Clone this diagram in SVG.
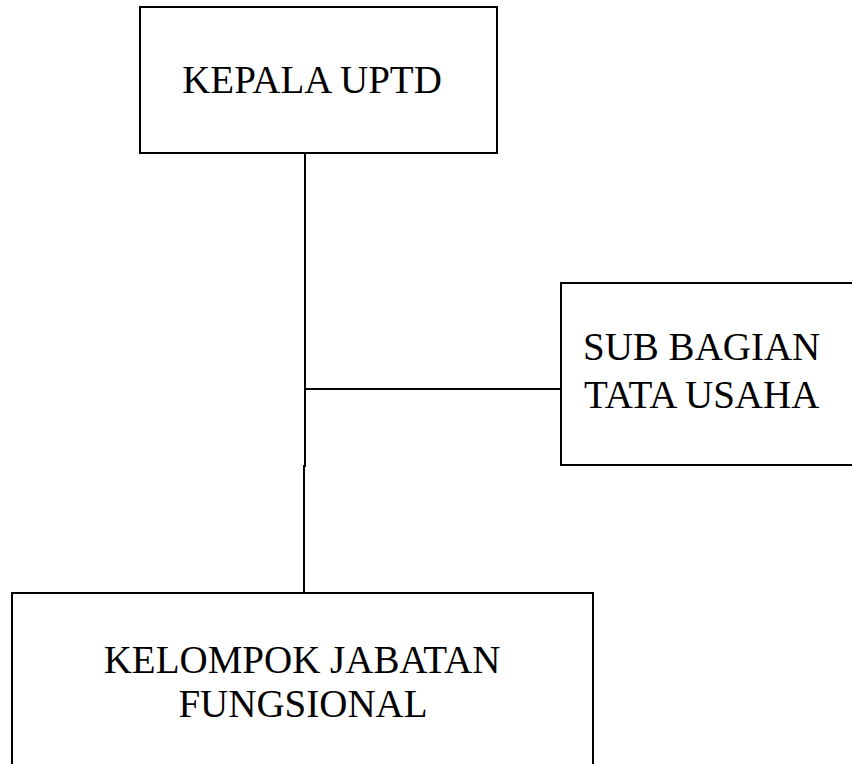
<svg xmlns="http://www.w3.org/2000/svg" width="852" height="764" viewBox="0 0 852 764">
<style>
.box{fill:#fff;stroke:#000;stroke-width:2}
.ln{stroke:#000;stroke-width:2;fill:none}
text{font-family:"Liberation Serif","DejaVu Serif",serif;font-size:39px;fill:#000}
</style>
<rect width="852" height="764" fill="#fff"/>
<g id="connectors">
<line class="ln" x1="305" y1="153" x2="305" y2="467"/>
<line class="ln" x1="304" y1="465" x2="304" y2="593"/>
<line class="ln" x1="305" y1="389" x2="561" y2="389"/>
</g>
<g id="kepala">
<rect class="box" x="140" y="7" width="357" height="146"/>
<text x="312" y="93" text-anchor="middle">KEPALA UPTD</text>
</g>
<g id="subbagian">
<rect class="box" x="561" y="283" width="300" height="182"/>
<text x="583" y="360">SUB BAGIAN</text>
<text x="584" y="408">TATA USAHA</text>
</g>
<g id="kelompok">
<rect class="box" x="12" y="593" width="581" height="180"/>
<text x="302" y="673" text-anchor="middle">KELOMPOK JABATAN</text>
<text x="303" y="717" text-anchor="middle">FUNGSIONAL</text>
</g>
</svg>
